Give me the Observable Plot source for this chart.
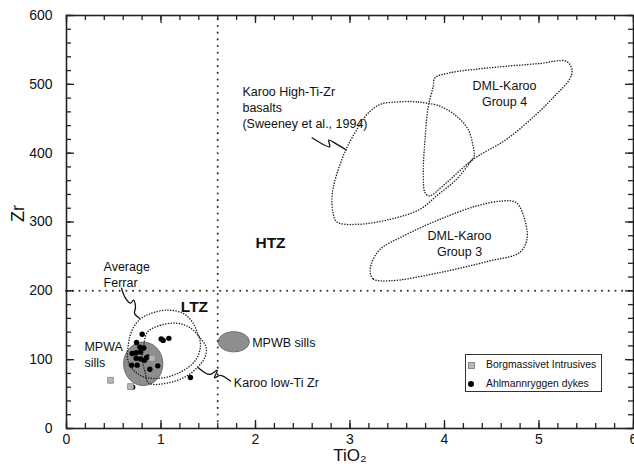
<!DOCTYPE html>
<html>
<head>
<meta charset="utf-8">
<script src="https://cdn.jsdelivr.net/npm/d3@7"></script>
<script src="https://cdn.jsdelivr.net/npm/@observablehq/plot@0.6"></script>
<style>
  html, body { margin: 0; padding: 0; background: #fff; }
  body { font-family: "Liberation Sans", Arial, Helvetica, sans-serif; }
  #wrap { position: relative; width: 634px; height: 472px; }
  #legend { position: absolute; left: 465px; top: 354px; width: 135px; height: 36px;
    border: 1.3px solid #333; background: #fff; font-size: 10.4px; color: #111; }
  #legend .row { position: absolute; left: 0; height: 14px; line-height: 14px; }
  #legend .mk { position: absolute; }
  #legend .lbl { position: absolute; left: 20px; white-space: nowrap; }
</style>
</head>
<body>
<div id="wrap"></div>
<script>
// ---------- data ----------
// Ahlmannryggen dykes
const dykeTiO2 = [0.801, 1.002, 1.023, 1.083, 0.741, 0.776, 0.818, 0.695, 0.737, 0.783, 0.737, 0.783, 0.825, 0.847, 0.861, 0.688, 0.748, 0.882, 0.966, 1.312, 0.700];
const dykeZr   = [137,   130,   128,   131,   125,   118,   117,   109,   110,   111,   102,   101,   99,    103,   104,   92,    92,    86,    91,    74,    60];
// Borgmassivet Intrusives
const borgTiO2 = [0.466, 0.677, 0.907];
const borgZr   = [70, 61, 102];
// Sill fields (filled ellipses)
const sillNames = ["MPWA sills", "MPWB sills"];
const sillTiO2  = [0.812, 1.77];
const sillZr    = [94, 126];
// Field outlines
const highTiTiO2 = [3.530, 3.723, 3.951, 4.127, 4.250, 4.303, 4.313, 4.268, 4.127, 3.915, 3.741, 3.424, 3.073, 2.862, 2.820, 2.810, 2.844, 2.950, 3.073, 3.179, 3.319];
const highTiZr   = [474.6, 474.2, 468.3, 453.8, 434.5, 410.4, 395.8, 386.2, 362.0, 337.8, 318.5, 303.9, 296.6, 300.0, 313.7, 337.8, 362.0, 403.1, 434.5, 456.2, 470.8];
const group4TiO2 = [3.898, 4.057, 4.478, 5.005, 5.287, 5.349, 5.322, 5.181, 4.970, 4.654, 4.303, 4.021, 3.839, 3.794, 3.776, 3.794, 3.829, 3.881];
const group4Zr   = [509.4, 516.7, 524.0, 530.2, 533.6, 521.5, 507.1, 485.2, 456.2, 420.0, 391.0, 357.1, 337.8, 342.6, 371.6, 420.0, 468.3, 497.3];
const group3TiO2 = [3.214, 3.249, 3.424, 3.951, 4.478, 4.795, 4.872, 4.848, 4.760, 4.619, 4.338, 3.951, 3.565, 3.319, 3.231];
const group3Zr   = [226.6, 217.0, 214.5, 226.6, 243.5, 255.6, 274.9, 303.9, 328.1, 330.6, 323.3, 303.9, 279.7, 260.4, 241.2];
const ferrarTiO2 = [0.656, 0.695, 0.772, 0.889, 1.066, 1.238, 1.330, 1.383, 1.418, 1.365, 1.206, 0.995, 0.783, 0.656];
const ferrarZr   = [124, 143, 158, 167, 172, 167, 155, 140, 121, 99, 82, 73, 77, 96];
const lowTiTiO2  = [0.857, 0.995, 1.171, 1.312, 1.418, 1.478, 1.460, 1.386, 1.280, 1.101, 0.868, 0.836, 0.804, 0.815];
const lowTiZr    = [140, 150, 153, 146, 131, 118, 102, 89, 77, 67, 66, 80, 99, 118];
// Divider lines
const tiDivide = [1.6];
const zrDivide = [200];
// Tick labels
const xTickLabels = [0, 1, 2, 3, 4, 5, 6];
const yTickLabels = [0, 100, 200, 300, 400, 500, 600];
// Minor tick positions
const xMinorTicks = [0, 0.2, 0.4, 0.6, 0.8, 1, 1.2, 1.4, 1.6, 1.8, 2, 2.2, 2.4, 2.6, 2.8, 3, 3.2, 3.4, 3.6, 3.8, 4, 4.2, 4.4, 4.6, 4.8, 5, 5.2, 5.4, 5.6, 5.8, 6];
const yMinorTicks = [0, 20, 40, 60, 80, 100, 120, 140, 160, 180, 200, 220, 240, 260, 280, 300, 320, 340, 360, 380, 400, 420, 440, 460, 480, 500, 520, 540, 560, 580, 600];

// ---------- helpers ----------
const pts = (xs, ys) => xs.map((x, i) => ({x, y: ys[i]}));
function ellipseSymbol(k) {
  return {
    draw(ctx, size) {
      const rx = Math.sqrt(size / Math.PI), ry = rx * k, c = 0.5523;
      ctx.moveTo(rx, 0);
      ctx.bezierCurveTo(rx, ry * c, rx * c, ry, 0, ry);
      ctx.bezierCurveTo(-rx * c, ry, -rx, ry * c, -rx, 0);
      ctx.bezierCurveTo(-rx, -ry * c, -rx * c, -ry, 0, -ry);
      ctx.bezierCurveTo(rx * c, -ry, rx, -ry * c, rx, 0);
      ctx.closePath();
    }
  };
}
const W = 634, H = 472, mL = 66, mR = 1, mT = 15, mB = 44;
const XMIN = 0, XMAX = 6, YMIN = 0, YMAX = 600;
const outline = {stroke: "#222", strokeWidth: 1.5, strokeDasharray: "0.1 2.6", strokeLinecap: "round", curve: "catmull-rom-closed"};
const leader = {stroke: "#111", strokeWidth: 1.3, curve: "catmull-rom"};
const dividers = {stroke: "#333", strokeWidth: 2, strokeDasharray: "0.1 6.6", strokeLinecap: "round"};
const txt = {fill: "#111", fontSize: 12.5, lineHeight: 1.28};

const leaderHighTi = pts([2.599, 2.785, 2.775, 2.862, 2.961], [422.3, 409.3, 419.0, 412.7, 404.5]);
const leaderFerrar = pts([0.582, 0.624, 0.677, 0.709, 0.730, 0.720, 0.772], [203.9, 189.3, 182.0, 186.4, 176.2, 167.5, 160.2]);
const leaderLowTi  = pts([1.394, 1.513, 1.595, 1.566, 1.630, 1.735], [88.4, 78.6, 84.5, 73.8, 77.2, 68.9]);

// inward tick marks on all four sides (pixel insets relative to the frame)
const FW = W - mL - mR, FH = H - mT - mB;
function inwardTicks(len, xs, ys) {
  const s = {stroke: "#222", strokeWidth: 1.3};
  return [
    Plot.tickX(xs, {x: d => d, ...s, insetTop: FH - len}),
    Plot.tickX(xs, {x: d => d, ...s, insetBottom: FH - len}),
    Plot.tickY(ys, {y: d => d, ...s, insetRight: FW - len}),
    Plot.tickY(ys, {y: d => d, ...s, insetLeft: FW - len})
  ];
}

const plot = Plot.plot({
  width: W, height: H,
  marginLeft: mL, marginRight: mR, marginTop: mT, marginBottom: mB,
  style: {fontFamily: "'Liberation Sans', Arial, Helvetica, sans-serif", fontSize: "14px", color: "#111", background: "#fff"},
  x: {domain: [XMIN, XMAX]},
  y: {domain: [YMIN, YMAX]},
  marks: [
    // filled sill ellipses
    Plot.dot([0], {x: i => sillTiO2[i], y: i => sillZr[i], r: 19.6, symbol: ellipseSymbol(1.11), fill: "#8e8e8e", stroke: "#6b6b6b", strokeWidth: 1}),
    Plot.dot([1], {x: i => sillTiO2[i], y: i => sillZr[i], r: 15.5, symbol: ellipseSymbol(0.65), fill: "#8e8e8e", stroke: "#6b6b6b", strokeWidth: 1}),
    // divider lines
    Plot.ruleX(tiDivide, {...dividers, y1: YMIN, y2: YMAX}),
    Plot.ruleY(zrDivide, {...dividers, x1: XMIN, x2: XMAX}),
    // field outlines
    Plot.line(pts(highTiTiO2, highTiZr), {x: "x", y: "y", ...outline}),
    Plot.line(pts(group4TiO2, group4Zr), {x: "x", y: "y", ...outline}),
    Plot.line(pts(group3TiO2, group3Zr), {x: "x", y: "y", ...outline}),
    Plot.line(pts(ferrarTiO2, ferrarZr), {x: "x", y: "y", ...outline}),
    Plot.line(pts(lowTiTiO2, lowTiZr), {x: "x", y: "y", ...outline}),
    // leaders
    Plot.line(leaderHighTi, {x: "x", y: "y", ...leader}),
    Plot.line(leaderFerrar, {x: "x", y: "y", ...leader}),
    Plot.line(leaderLowTi, {x: "x", y: "y", ...leader}),
    // samples
    Plot.dot(pts(dykeTiO2, dykeZr), {x: "x", y: "y", r: 2.7, fill: "#000"}),
    Plot.dot(pts(borgTiO2, borgZr), {x: "x", y: "y", r: 3.3, symbol: "square", fill: "#b8b8b8", stroke: "#888", strokeWidth: 0.8}),
    // annotations
    Plot.text(["Karoo High-Ti-Zr\nbasalts\n(Sweeney et al., 1994)"], {x: 1.862, y: 499, text: d => d, textAnchor: "start", lineAnchor: "top", ...txt}),
    Plot.text(["DML-Karoo\nGroup 4"], {x: 4.635, y: 488, text: d => d, textAnchor: "middle", lineAnchor: "middle", ...txt}),
    Plot.text(["DML-Karoo\nGroup 3"], {x: 4.159, y: 269, text: d => d, textAnchor: "middle", lineAnchor: "middle", ...txt}),
    Plot.text(["HTZ"], {x: 2.159, y: 269, text: d => d, fontWeight: "bold", fontSize: 15.5, fill: "#111"}),
    Plot.text(["LTZ"], {x: 1.354, y: 176, text: d => d, fontWeight: "bold", fontSize: 15.5, fill: "#111"}),
    Plot.text(["Average\nFerrar"], {x: 0.392, y: 225, text: d => d, textAnchor: "start", lineAnchor: "middle", ...txt}),
    Plot.text(["MPWA\nsills"], {x: 0.19, y: 108, text: d => d, textAnchor: "start", lineAnchor: "middle", ...txt}),
    Plot.text(["MPWB sills"], {x: 1.965, y: 125.7, text: d => d, textAnchor: "start", ...txt}),
    Plot.text(["Karoo low-Ti Zr"], {x: 1.771, y: 67.5, text: d => d, textAnchor: "start", ...txt}),
    // inward ticks: minor and major
    ...inwardTicks(5, xMinorTicks, yMinorTicks),
    ...inwardTicks(8, xTickLabels, yTickLabels),
    // tick labels
    Plot.axisX(xTickLabels, {anchor: "bottom", tickSize: 0, tickPadding: 6, fontSize: 14, label: null}),
    Plot.axisY(yTickLabels, {anchor: "left", tickSize: 0, tickPadding: 14, fontSize: 14, label: null}),
    // axis titles
    Plot.text(["TiO₂"], {frameAnchor: "bottom", dy: 32, text: d => d, fontSize: 17, fill: "#111"}),
    Plot.text(["Zr"], {frameAnchor: "left", dx: -48, rotate: -90, text: d => d, fontSize: 18, fill: "#111"}),
    Plot.frame({stroke: "#222", strokeWidth: 1.6})
  ]
});

const wrap = document.getElementById("wrap");
wrap.appendChild(plot);

// legend (inside the plot frame, lower right)
const legend = document.createElement("div");
legend.id = "legend";
const legendItems = [
  {label: "Borgmassivet Intrusives", kind: "square"},
  {label: "Ahlmannryggen dykes", kind: "dot"}
];
legendItems.forEach((it, i) => {
  const row = document.createElement("div");
  row.className = "row";
  row.style.top = (3 + i * 19) + "px";
  row.style.width = "135px";
  const mk = document.createElement("div");
  mk.className = "mk";
  if (it.kind === "square") {
    Object.assign(mk.style, {left: "2px", top: "4px", width: "5px", height: "5px", background: "#b8b8b8", border: "0.8px solid #888"});
  } else {
    Object.assign(mk.style, {left: "2px", top: "4px", width: "6px", height: "6px", background: "#000", borderRadius: "50%"});
  }
  const lbl = document.createElement("span");
  lbl.className = "lbl";
  lbl.textContent = it.label;
  row.appendChild(mk);
  row.appendChild(lbl);
  legend.appendChild(row);
});
wrap.appendChild(legend);
</script>
</body>
</html>
